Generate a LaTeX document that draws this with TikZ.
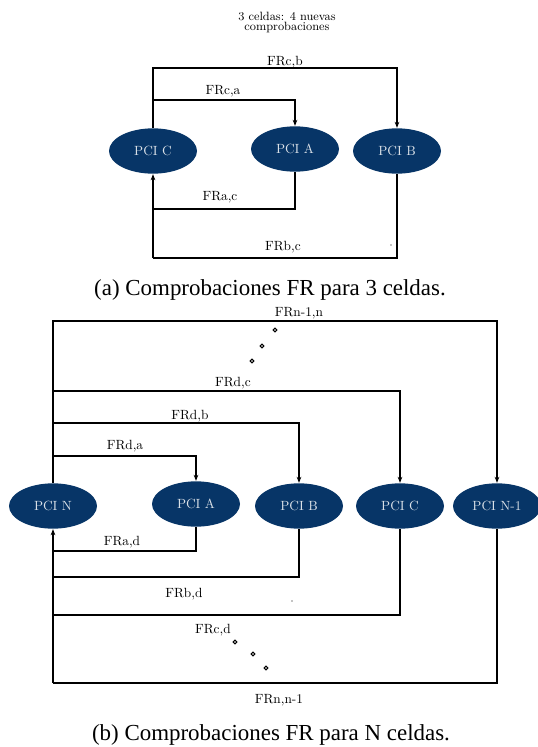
\documentclass[tikz,border=0pt]{standalone}
\usepackage{fontspec}
\newfontfamily\capfont{Liberation Serif}
\usetikzlibrary{shapes.geometric,arrows.meta}
\definecolor{pcinavy}{HTML}{073567}
\begin{document}
\begin{tikzpicture}[x=0.75pt,y=-0.75pt,line width=0.8pt,>={Stealth[length=4.5pt,width=3.5pt]},
	pci/.style={ellipse,fill=pcinavy,text=white!85!pcinavy,minimum width=66pt,minimum height=34pt,inner sep=0pt},
	fr/.style={inner sep=0pt,font=\normalsize},
	leyenda/.style={font=\capfont\fontsize{17.2}{20}\selectfont}]
	\useasboundingbox (0,0) rectangle (538,747);
	% (a) 3 celdas
	\node[align=center,font=\fontsize{9}{7.5}\selectfont] (titulo) at (287,22) {3 celdas: 4 nuevas\\comprobaciones};
	\node[pci] (C) at (153,151) {PCI C};\node[pci] (A) at (295,149) {PCI A};\node[pci] (B) at (397,151) {PCI B};
	\coordinate (cb) at (0,68);\coordinate (ca) at (0,100);\coordinate (ac) at (0,209);\coordinate (bc) at (0,258);
	\draw[->] (C.north) -- (C.north |- cb) -| (B.north);
	\draw[->] (C.north |- ca) -| (A.north);
	\draw (A.south) -- (A.south |- ac) -- (C.south |- ac);
	\draw (B.south) -- (B.south |- bc) -- (C.south |- bc);
	\draw[->] (C.south |- bc) -- (C.south);
	\node[fr] at (285,62) {FRc,b};\node[fr] at (223,91) {FRc,a};
	\node[fr] at (220,197) {FRa,c};\node[fr] at (283,247) {FRb,c};
	\fill (391,245) circle (0.4pt);
	\node[leyenda] (capa) at (270,290) {(a) Comprobaciones FR para 3 celdas.};
	% (b) N celdas
	\node[pci] (N) at (53,506) {PCI N};\node[pci] (A2) at (196,504) {PCI A};\node[pci] (B2) at (299,506) {PCI B};
	\node[pci] (C2) at (400,506) {PCI C};\node[pci] (N1) at (497,506) {PCI N-1};
	\coordinate (nm) at (0,321);\coordinate (dc) at (0,391);\coordinate (db) at (0,423);\coordinate (da) at (0,456);
	\coordinate (ad) at (0,551);\coordinate (bd) at (0,577);\coordinate (cd) at (0,615);\coordinate (nn) at (0,683);
	\draw[->] (N.north) -- (N.north |- nm) -| (N1.north);
	\foreach \n/\y in {C2/dc,B2/db,A2/da}\draw[->] (N.north |- \y) -| (\n.north);
	\foreach \n/\y in {A2/ad,B2/bd,C2/cd,N1/nn}\draw (\n.south) -- (\n.south |- \y) -- (N.south |- \y);
	\draw[->] (N.south |- nn) -- (N.south);
	\node[fr] at (299,313) {FRn-1,n};\node[fr] at (233,383) {FRd,c};
	\node[fr] at (190,416) {FRd,b};\node[fr] at (125,446) {FRd,a};
	\node[fr] at (122,542) {FRa,d};\node[fr] at (184,594) {FRb,d};
	\node[fr] at (213,630) {FRc,d};\node[fr] at (279,700) {FRn,n-1};
	\foreach \p in {(275,330),(262,346),(252,361),(235,642),(253,654),(266,668)}\draw[line width=0.9pt] \p circle (1.4pt);
	\fill (292,601) circle (0.4pt);
	\node[leyenda] (capb) at (271,735) {(b) Comprobaciones FR para N celdas.};
\end{tikzpicture}
\end{document}
